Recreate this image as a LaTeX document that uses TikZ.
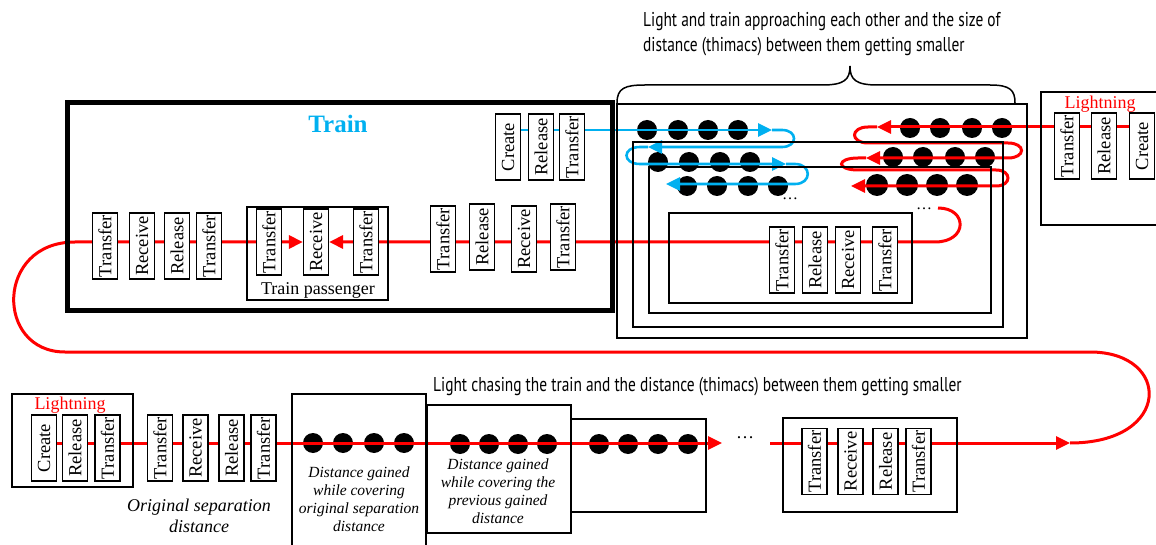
\documentclass[tikz,border=0pt]{standalone}
\usepackage{fontspec}
\setmainfont{Liberation Serif}
\newfontfamily\notefont[FakeStretch=0.77]{PT Sans}
\usepackage{xcolor}
\usetikzlibrary{arrows.meta,backgrounds}
\definecolor{trainblue}{RGB}{0,176,240}
\newcommand{\fsz}[1]{\fontsize{#1}{#1}\selectfont}

\begin{document}
\begin{tikzpicture}[
  x=1pt, y=-1pt,
  stepbox/.style={draw, line width=1.2pt, fill=white, rotate=90, minimum width=66pt,
                  minimum height=25pt, inner sep=0pt, font=\fsz{18.5}},
  panel/.style={draw, line width=1.2pt, inner sep=0pt},
  bead/.style={circle, fill=black, inner sep=0pt, minimum size=20pt},
  remark/.style={font=\notefont\fontsize{20}{25}\selectfont, align=left, inner sep=0pt},
  gaintext/.style={font=\itshape\fontsize{15.5}{18}\selectfont, align=center, inner sep=0pt},
  redline/.style={red, line width=3pt},
  blueline/.style={trainblue, line width=2.6pt},
  headed/.style={-{Triangle[length=14pt,width=13pt]}},
]
\useasboundingbox (0,0) rectangle (1156,545);

\node[panel, line width=5pt, minimum width=545pt, minimum height=207pt] (train) at (339.5,206.5) {};
\node[font=\bfseries\fsz{25}, text=trainblue] (trainlbl) at (338,124) {Train};
\node[stepbox] (tcreate) at (508,147) {Create};
\node[stepbox] (trelease) at (541,147) {Release};
\node[stepbox] (ttransfer) at (572,147) {Transfer};

\node[stepbox] (atr1) at (105,246) {Transfer};
\node[stepbox] (arcv) at (142,246) {Receive};
\node[stepbox] (arel) at (177,246) {Release};
\node[stepbox] (atr2) at (209,246) {Transfer};

\node[panel, minimum width=141pt, minimum height=93pt] (pass) at (317.5,253.5) {};
\node[font=\fsz{18}] (passlbl) at (318,290) {Train passenger};
\node[stepbox] (ptr1) at (269,242) {Transfer};
\node[stepbox] (prcv) at (316,242) {Receive};
\node[stepbox] (ptr2) at (366,242) {Transfer};

\node[stepbox] (btr1) at (443,239) {Transfer};
\node[stepbox] (brel) at (482,237) {Release};
\node[stepbox] (brcv) at (524,239) {Receive};
\node[stepbox] (btr2) at (563,237) {Transfer};

\node[panel, minimum width=410pt, minimum height=234pt] (nest1) at (822,221) {};
\node[panel, minimum width=370pt, minimum height=185pt] (nest2) at (818,234.5) {};
\node[panel, minimum width=342pt, minimum height=146pt] (nest3) at (820,240) {};
\node[panel, minimum width=243pt, minimum height=90pt] (nest4) at (790.5,258) {};
\node[stepbox] (ntr1) at (782,260) {Transfer};
\node[stepbox] (nrel) at (815,260) {Release};
\node[stepbox] (nrcv) at (848,260) {Receive};
\node[stepbox] (ntr2) at (885,260) {Transfer};
\node[font=\fsz{16}] (moreblue) at (790,199) {\dots};
\node[font=\fsz{16}] (morered) at (924,209) {\dots};

\draw[line width=1.5pt] (617,103) .. controls (617,88) and (625,85) .. (645,85) -- (822,85)
  .. controls (844,85) and (850,80) .. (850,66) .. controls (850,80) and (856,85) .. (878,85)
  -- (990,85) .. controls (1010,85) and (1015,90) .. (1015,103);
\node[remark, anchor=north west] (approach) at (643,12)
  {Light and train approaching each other and the size of\\distance (thimacs) between them getting smaller};

\node[panel, minimum width=134pt, minimum height=133pt] (ltop) at (1108,158.5) {};
\node[font=\fsz{18}, text=red] (ltoplbl) at (1100,104) {Lightning};
\node[stepbox] (ltr) at (1067,146) {Transfer};
\node[stepbox] (lrel) at (1104,146) {Release};
\node[stepbox] (lcre) at (1142,146) {Create};

\node[panel, minimum width=121pt, minimum height=93pt] (lbot) at (72.5,440.5) {};
\node[font=\fsz{18}, text=red] (lbotlbl) at (70,405) {Lightning};
\node[stepbox] (lcreate) at (44,448) {Create};
\node[stepbox] (lrelease) at (75,448) {Release};
\node[stepbox] (ltransfer) at (107.5,448) {Transfer};

\node[stepbox] (ctr1) at (160,448) {Transfer};
\node[stepbox] (crcv) at (195.5,448) {Receive};
\node[stepbox] (crel) at (231.5,448) {Release};
\node[stepbox] (ctr2) at (263.5,448) {Transfer};
\node[gaintext, font=\itshape\fontsize{18}{21}\selectfont] (origsep) at (199,516) {Original separation\\distance};

\node[panel, minimum width=134pt, minimum height=166pt] (gain1) at (359,477) {};
\node[panel, minimum width=144pt, minimum height=128pt] (gain2) at (499,469) {};
\node[panel, minimum width=135pt, minimum height=93pt] (gain3) at (638.5,465.5) {};
\node[gaintext] (gain1txt) at (359,499) {Distance gained\\while covering\\original separation\\distance};
\node[gaintext] (gain2txt) at (498,491) {Distance gained\\while covering the\\previous gained\\distance};
\node[font=\fsz{18}] (morechase) at (745,438) {\dots};

\node[panel, minimum width=174pt, minimum height=94pt] (tail) at (870,465) {};
\node[stepbox] (etr1) at (814.5,461.5) {Transfer};
\node[stepbox] (ercv) at (850.5,461.5) {Receive};
\node[stepbox] (erel) at (885.5,461.5) {Release};
\node[stepbox] (etr2) at (918.5,461.5) {Transfer};

\node[remark, anchor=west] (chase) at (433,387)
  {Light chasing the train and the distance (thimacs) between them getting smaller};

\begin{scope}[on background layer]
\foreach \x [count=\i] in {647,678,708,738} \node[bead] (ba\i) at (\x,130) {};
\foreach \x [count=\i] in {658,689,720,750} \node[bead] (bb\i) at (\x,162) {};
\foreach \x [count=\i] in {687,717,748,778} \node[bead] (bc\i) at (\x,186) {};
\foreach \x [count=\i] in {910,940,972,1002} \node[bead] (ra\i) at (\x,128) {};
\foreach \x [count=\i] in {893,923,955,985} \node[bead] (rb\i) at (\x,157) {};
\foreach \x [count=\i] in {877,907,937,967} \node[bead, minimum size=22pt] (rc\i) at (\x,185) {};
\foreach \x [count=\i] in {313,343,374,404} \node[bead] (ga\i) at (\x,443) {};
\foreach \x [count=\i] in {460,489,518,547} \node[bead] (gb\i) at (\x,444) {};
\foreach \x [count=\i] in {599,628,658,688} \node[bead] (gc\i) at (\x,444) {};

\coordinate (bA) at (772,130);
\coordinate (bB) at (648,147);
\coordinate (bC) at (786,164);
\coordinate (bD) at (666,184);
\draw[blueline, headed] (tcreate.north |- bA) -- (bA);
\draw[blueline, headed] (bA) -- (782,130) .. controls (798,130) and (798,147) .. (782,147) -- (bB);
\draw[blueline, headed] (bB) -- (640,147) .. controls (622,147) and (622,164) .. (640,164) -- (bC);
\draw[blueline, headed] (bC) -- (795,164) .. controls (812,164) and (812,184) .. (795,184) -- (bD);

\coordinate (rA) at (877,127);
\coordinate (rB) at (866,158);
\coordinate (rC) at (851,186);
\draw[redline, headed] (lcre.north |- rA) -- (rA);
\draw[redline, headed] (rA) -- (868,127) .. controls (850,127) and (850,143) .. (868,143) -- (1008,143)
  .. controls (1026,143) and (1026,158) .. (1008,158) -- (rB);
\draw[redline, headed] (rB) -- (858,158) .. controls (836,158) and (836,170) .. (858,170) -- (996,170)
  .. controls (1012,170) and (1012,186) .. (996,186) -- (rC);

\coordinate (rU) at (938,208);
\draw[redline, headed] (rU) .. controls (968,208) and (968,242) .. (935,242) -- (prcv.south);

\coordinate (rF) at (722,443);
\coordinate (rG) at (770,443);
\coordinate (rE) at (1070,443);
\draw[redline, headed] (lcreate |- rF) -- (rF);
\draw[redline, headed] (rG) -- (rE);
\draw[redline, headed] (rE) .. controls (1172,443) and (1172,352) .. (1090,352) -- (65,352)
  .. controls (-5,352) and (-5,242) .. (75,242) -- (prcv.north);
\end{scope}
\end{tikzpicture}
\end{document}
